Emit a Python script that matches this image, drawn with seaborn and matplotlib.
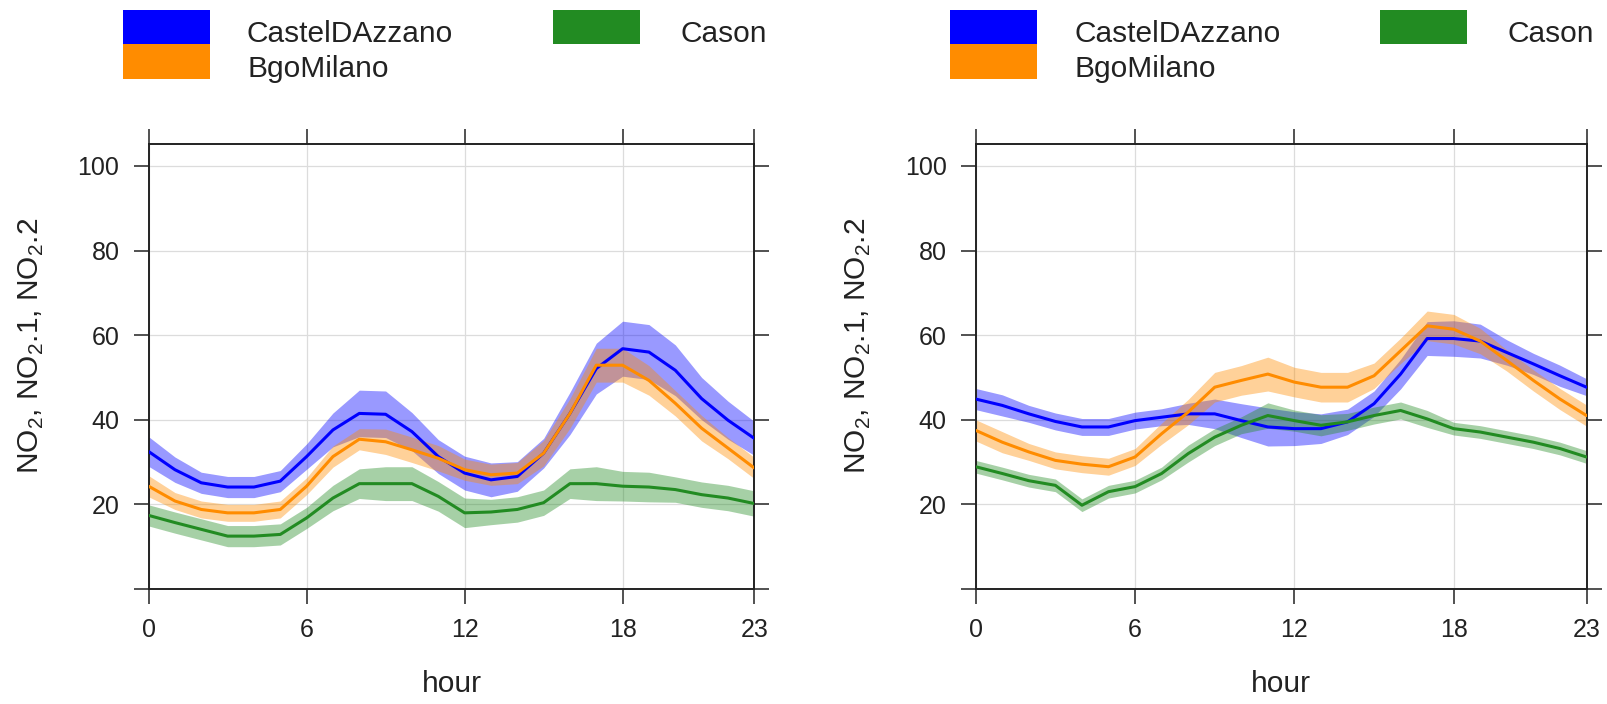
import numpy as np
import pandas as pd
import matplotlib
matplotlib.use("Agg")
import matplotlib.pyplot as plt
from matplotlib import font_manager
from matplotlib.patches import Rectangle
import seaborn as sns

# ---------------- data ----------------
hours = list(range(24))
sites = ["CastelDAzzano", "BgoMilano", "Cason"]
colors = {"CastelDAzzano": "#0000FF", "BgoMilano": "#FF8C00", "Cason": "#228B22"}

# left panel (means)
left_castel = [32.5, 28.2, 25.1, 24.1, 24.1, 25.5, 31.3, 37.6, 41.5, 41.3, 37.2, 31.3,
               27.4, 25.8, 26.6, 32.1, 41.5, 52.1, 56.8, 56.0, 51.7, 45.0, 39.9, 35.6]
left_bgo = [24.3, 20.8, 18.8, 18.0, 18.0, 18.8, 24.3, 31.3, 35.4, 34.8, 32.9, 30.9,
            28.2, 27.0, 27.4, 32.1, 41.5, 52.9, 52.9, 49.3, 43.9, 38.0, 33.3, 28.6]
left_cason = [17.4, 15.7, 14.1, 12.5, 12.5, 12.9, 16.8, 21.5, 24.9, 24.9, 24.9, 21.9,
              18.0, 18.2, 18.8, 20.4, 24.9, 24.9, 24.3, 24.1, 23.5, 22.3, 21.5, 20.2]
# left panel (band half-widths)
left_castel_ci = [3.5, 3.0, 2.5, 2.5, 2.5, 2.5, 3.0, 4.0, 5.5, 5.5, 4.5, 4.0,
                  4.0, 4.0, 3.5, 3.5, 5.0, 6.0, 6.5, 6.5, 6.0, 5.0, 4.5, 4.0]
left_bgo_ci = [2.5, 2.0, 2.0, 2.0, 2.0, 2.0, 2.0, 2.5, 2.5, 3.0, 3.0, 3.0,
               2.5, 2.5, 2.5, 3.0, 3.5, 4.0, 4.0, 3.5, 3.0, 3.0, 2.5, 2.5]
left_cason_ci = [2.5, 2.5, 2.5, 2.5, 2.5, 2.5, 2.5, 3.0, 3.5, 4.0, 4.0, 3.5,
                 3.5, 3.0, 3.0, 3.0, 3.5, 4.0, 3.5, 3.5, 3.0, 3.0, 3.0, 3.0]

# right panel (means)
right_castel = [44.9, 43.4, 41.4, 39.6, 38.3, 38.3, 39.8, 40.6, 41.4, 41.4, 39.8, 38.3,
                37.9, 37.9, 39.5, 43.8, 50.8, 59.2, 59.2, 58.6, 55.9, 53.2, 50.4, 47.7]
right_bgo = [37.5, 34.7, 32.4, 30.4, 29.5, 28.9, 31.2, 36.7, 41.8, 47.7, 49.3, 50.8,
             48.9, 47.7, 47.7, 50.4, 56.3, 62.2, 61.4, 58.6, 54.0, 49.3, 44.9, 41.0]
right_cason = [28.9, 27.3, 25.6, 24.5, 19.8, 23.0, 24.2, 27.3, 32.0, 35.9, 38.7, 41.0,
               39.8, 38.7, 39.5, 41.0, 42.2, 40.2, 37.9, 37.1, 35.9, 34.7, 33.2, 31.2]
# right panel (band half-widths)
right_castel_ci = [2.5, 2.5, 2.0, 2.0, 2.0, 2.0, 2.0, 2.0, 2.5, 3.5, 4.0, 4.5,
                   4.0, 3.5, 3.0, 3.0, 3.5, 4.0, 4.2, 4.0, 3.0, 2.5, 2.5, 2.0]
right_bgo_ci = [2.5, 2.5, 2.0, 2.0, 2.0, 2.0, 2.0, 2.5, 3.0, 3.5, 3.5, 4.0,
                3.5, 3.5, 3.5, 3.0, 3.0, 3.5, 3.5, 3.0, 2.5, 2.5, 2.5, 2.5]
right_cason_ci = [1.5, 1.5, 1.5, 1.5, 1.5, 1.5, 1.5, 1.5, 2.0, 2.0, 2.0, 3.0,
                  2.5, 2.5, 2.0, 2.0, 2.0, 2.0, 1.5, 1.5, 1.5, 1.5, 1.5, 1.5]

x_ticks = [0, 6, 12, 18, 23]
y_ticks = [0, 20, 40, 60, 80, 100]
y_ticklabels = ["", "20", "40", "60", "80", "100"]
x_label = "hour"
y_label = r"NO$_\mathregular{2}$, NO$_\mathregular{2}$.1, NO$_\mathregular{2}$.2"

panels = [
    {"CastelDAzzano": (left_castel, left_castel_ci),
     "BgoMilano": (left_bgo, left_bgo_ci),
     "Cason": (left_cason, left_cason_ci)},
    {"CastelDAzzano": (right_castel, right_castel_ci),
     "BgoMilano": (right_bgo, right_bgo_ci),
     "Cason": (right_cason, right_cason_ci)},
]

# ---------------- style ----------------
sns.set_style("white")
names = {f.name for f in font_manager.fontManager.ttflist}
main_font = "Liberation Sans" if "Liberation Sans" in names else "DejaVu Sans"
tick_font = "Liberation Sans Narrow" if "Liberation Sans Narrow" in names else main_font
plt.rcParams["font.family"] = [main_font, "DejaVu Sans"]
plt.rcParams["mathtext.fontset"] = "custom"
plt.rcParams["mathtext.rm"] = main_font

W, H = 1607, 704
fig = plt.figure(figsize=(W / 100, H / 100), dpi=100)

ax_boxes = [(148.6, 754.3), (975.7, 1586.5)]
y_top, y_bot = 143.5, 589.0

for i, (x0, x1) in enumerate(ax_boxes):
    ax = fig.add_axes([x0 / W, 1 - y_bot / H, (x1 - x0) / W, (y_bot - y_top) / H])
    pdata = panels[i]
    rows = []
    for s in sites:
        vals, ci = pdata[s]
        for h, v in zip(hours, vals):
            rows.append({"hour": h, "value": v, "site": s})
    df = pd.DataFrame(rows)

    for s in sites:
        vals, ci = pdata[s]
        v = np.array(vals)
        c = np.array(ci)
        ax.fill_between(hours, v - c, v + c, color=colors[s], alpha=0.4, lw=0, zorder=2)
    sns.lineplot(data=df, x="hour", y="value", hue="site", hue_order=sites,
                 palette=colors, lw=2.2, legend=False, ax=ax, errorbar=None, zorder=3)

    ax.set_xlim(0, 23)
    ax.set_ylim(0, 105.3)
    ax.set_xticks(x_ticks)
    ax.set_xticklabels([str(t) for t in x_ticks], fontfamily=tick_font, fontsize=18)
    ax.set_yticks(y_ticks)
    ax.set_yticklabels(y_ticklabels, fontfamily=tick_font, fontsize=18)
    ax.set_xlabel("")
    ax.set_ylabel("")
    ax.grid(True, color="#dcdcdc", lw=0.9, zorder=0)
    ax.set_axisbelow(True)
    ax.tick_params(direction="out", length=11, width=1.1, color="#222222",
                   top=True, right=True, bottom=True, left=True,
                   labeltop=False, labelright=False, pad=10, labelcolor="#222222")
    for sp in ax.spines.values():
        sp.set_visible(True)
        sp.set_linewidth(1.4)
        sp.set_color("#222222")

    # axis titles
    fig.text((x0 + x1) / 2 / W, 1 - 684 / H, x_label, ha="center", va="center",
             fontsize=21.5, color="#222222")
    fig.text((x0 - 117.6) / W, 1 - 346 / H, y_label, ha="center", va="center",
             rotation=90, fontsize=21.5, color="#222222")

    # legend (top of each panel)
    off = x0 - 148.6
    def rect(px0, py0, pw, ph, col):
        fig.add_artist(Rectangle((px0 / W, 1 - (py0 + ph) / H), pw / W, ph / H,
                                 transform=fig.transFigure, color=col, lw=0))
    rect(123 + off, 10, 87, 34, colors["CastelDAzzano"])
    rect(123 + off, 44, 87, 35, colors["BgoMilano"])
    rect(553 + off, 10, 87, 34, colors["Cason"])
    fig.text((247 + off) / W, 1 - 42 / H, "CastelDAzzano", ha="left", va="baseline",
             fontsize=21.5, color="#222222")
    fig.text((247 + off) / W, 1 - 77 / H, "BgoMilano", ha="left", va="baseline",
             fontsize=21.5, color="#222222")
    fig.text((680 + off) / W, 1 - 42 / H, "Cason", ha="left", va="baseline",
             fontsize=21.5, color="#222222")

fig.savefig("out.png", dpi=100)
